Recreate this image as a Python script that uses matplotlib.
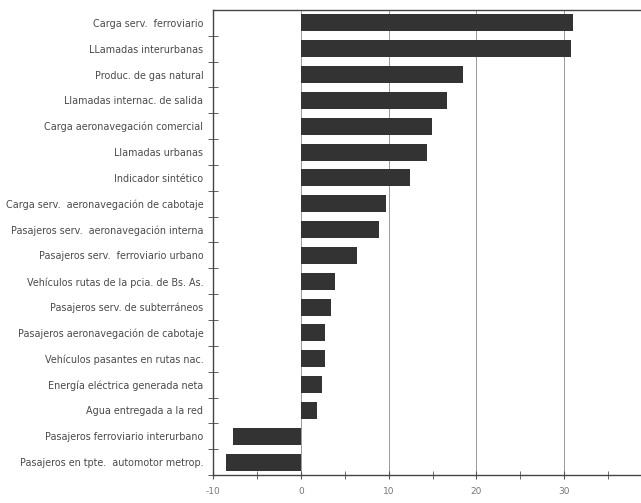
import matplotlib
matplotlib.use("Agg")
import matplotlib.pyplot as plt
import numpy as np

categories = [
    "Carga serv.  ferroviario",
    "LLamadas interurbanas",
    "Produc. de gas natural",
    "Llamadas internac. de salida",
    "Carga aeronavegación comercial",
    "Llamadas urbanas",
    "Indicador sintético",
    "Carga serv.  aeronavegación de cabotaje",
    "Pasajeros serv.  aeronavegación interna",
    "Pasajeros serv.  ferroviario urbano",
    "Vehículos rutas de la pcia. de Bs. As.",
    "Pasajeros serv. de subterráneos",
    "Pasajeros aeronavegación de cabotaje",
    "Vehículos pasantes en rutas nac.",
    "Energía eléctrica generada neta",
    "Agua entregada a la red",
    "Pasajeros ferroviario interurbano",
    "Pasajeros en tpte.  automotor metrop.",
]
values = [31.0, 30.8, 18.5, 16.6, 14.9, 14.4, 12.4, 9.7, 8.9, 6.4,
          3.9, 3.4, 2.7, 2.7, 2.4, 1.8, -7.7, -8.5]
xticks = [-10, 0, 10, 20, 30, 40]
xminor = [-5, 5, 15, 25, 35]

fig = plt.figure(figsize=(6.41, 5.03), dpi=100)
ax = fig.add_axes([213/641, 1-475/503, (652-213)/641, (475-10)/503])

n = len(categories)
y = np.arange(n)
ax.barh(y, values, height=0.66, color="#333333", zorder=3)
ax.set_ylim(n - 0.5, -0.5)
ax.set_xlim(-10, 40)

ax.set_yticks(y)
ax.set_yticklabels(categories, fontsize=6.9, color="#4a4a4a")
ax.tick_params(axis="y", which="major", length=0, pad=7)
ax.set_yticks(np.arange(-0.5, n, 1.0)[1:], minor=True)
ax.tick_params(axis="y", which="minor", length=7, direction="inout", color="#444444")

ax.set_xticks(xticks)
ax.set_xticklabels([str(t) for t in xticks], fontsize=6.5, color="#777777")
ax.set_xticks(xminor, minor=True)
ax.tick_params(axis="x", which="both", length=6, direction="inout", color="#555555", pad=6)

ax.grid(axis="x", which="major", color="#999999", linewidth=0.7, zorder=0)

for s in ["left", "bottom", "top"]:
    ax.spines[s].set_color("#444444")
    ax.spines[s].set_linewidth(1.0)
ax.spines["right"].set_visible(False)

fig.savefig("out.png", dpi=100)
